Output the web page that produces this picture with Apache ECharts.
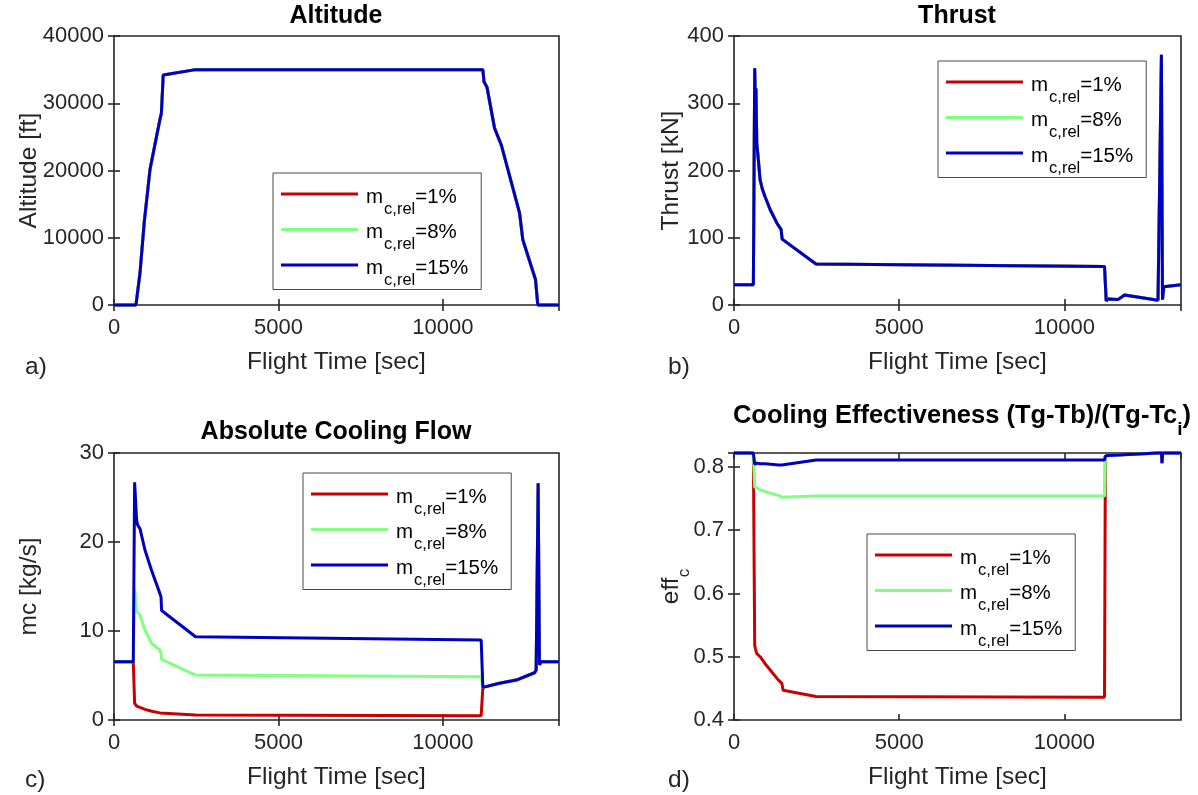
<!DOCTYPE html>
<html><head><meta charset="utf-8">
<script src="https://cdn.jsdelivr.net/npm/echarts@6/dist/echarts.min.js"></script>
<style>html,body{margin:0;padding:0;background:#fff}#c{width:1198px;height:795px}</style>
</head><body><div id="c"></div>
<script>
// ---------- data ----------
const seriesLabels = ['1%', '8%', '15%'];
const xTicks = [0, 5000, 10000];

// a) Altitude [ft]
const altTime = [0, 668, 790, 921, 1093, 1250, 1406, 1440, 1497, 2480, 11215, 11250, 11340, 11570, 11775, 12330, 12430, 12815, 12885, 13530];
const alt1  = [0, 0, 4750, 12400, 20100, 24000, 27800, 28500, 34200, 35000, 35000, 33200, 32400, 26300, 23800, 13700, 9700, 3800, 0, 0];
const alt8  = [0, 0, 4750, 12400, 20100, 24000, 27800, 28500, 34200, 35000, 35000, 33200, 32400, 26300, 23800, 13700, 9700, 3800, 0, 0];
const alt15 = [0, 0, 4750, 12400, 20100, 24000, 27800, 28500, 34200, 35000, 35000, 33200, 32400, 26300, 23800, 13700, 9700, 3800, 0, 0];

// b) Thrust [kN]
const thrTime = [0, 586, 627, 645, 665, 690, 720, 790, 860, 941, 1093, 1296, 1427, 1440, 1457, 2481, 11215, 11266, 11316, 11620, 11822, 12834, 12880, 12937, 12970, 13010, 13530];
const thr1  = [30, 30, 352, 300, 322, 240, 225, 186, 172, 161, 142, 122, 112, 110, 98, 61, 57.4, 6, 9, 8, 15, 7, 8, 372, 8, 27, 30];
const thr8  = [30, 30, 352, 300, 322, 240, 225, 186, 172, 161, 142, 122, 112, 110, 98, 61, 57.4, 6, 9, 8, 15, 7, 8, 372, 8, 27, 30];
const thr15 = [30, 30, 352, 300, 322, 240, 225, 186, 172, 161, 142, 122, 112, 110, 98, 61, 57.4, 6, 9, 8, 15, 7, 8, 372, 8, 27, 30];

// c) Absolute cooling flow mc [kg/s]
const mcTime = [0, 586, 627, 660, 689, 720, 790, 941, 1143, 1397, 1430, 1447, 2480, 11164, 11215, 11720, 12230, 12785, 12835, 12896, 12936, 12987, 13530];
const mc1  = [6.55, 6.55, 1.87, 1.65, 1.57, 1.5, 1.42, 1.2, 0.98, 0.8, 0.78, 0.75, 0.56, 0.49, 3.67, 4.12, 4.49, 5.31, 5.6, 26.6, 6.2, 6.55, 6.55];
const mc8  = [6.55, 6.55, 14.7, 14.5, 12.2, 12.0, 11.8, 10.1, 8.6, 7.86, 7.5, 6.8, 5.05, 4.86, 3.67, 4.12, 4.49, 5.31, 5.6, 26.6, 6.2, 6.55, 6.55];
const mc15 = [6.55, 6.55, 26.7, 26.5, 22.4, 21.9, 21.5, 19.1, 16.8, 14.2, 13.8, 12.3, 9.35, 8.98, 3.67, 4.12, 4.49, 5.31, 5.6, 26.6, 6.2, 6.55, 6.55];

// d) Cooling effectiveness eff_c
const effTime = [0, 586, 627, 650, 689, 790, 941, 1346, 1447, 1488, 2481, 11215, 11240, 11320, 12834, 12940, 12955, 12975, 13530];
const eff1  = [0.822, 0.822, 0.518, 0.512, 0.505, 0.500, 0.489, 0.463, 0.458, 0.447, 0.437, 0.436, 0.817, 0.818, 0.822, 0.822, 0.806, 0.822, 0.822];
const eff8  = [0.822, 0.822, 0.768, 0.767, 0.767, 0.764, 0.761, 0.755, 0.752, 0.751, 0.754, 0.754, 0.817, 0.818, 0.822, 0.822, 0.806, 0.822, 0.822];
const eff15 = [0.822, 0.822, 0.804, 0.806, 0.806, 0.805, 0.805, 0.803, 0.803, 0.803, 0.811, 0.811, 0.817, 0.818, 0.822, 0.822, 0.806, 0.822, 0.822];

// ---------- styling ----------
const FONT = '"Liberation Sans", Arial, Helvetica, sans-serif';
const AX = '#262626';
const colors = ['#c80000', '#80ff80', '#0000c0'];
const xMax = 13530;

const panels = [
  { grid: {left:114, top:36, width:445, height:269}, t: altTime, ys: [alt1, alt8, alt15],
    y: {min:0, max:40000, interval:10000}, yname: 'Altitude [ft]', nameGap: 72,
    legend: {left:273, top:173} },
  { grid: {left:734, top:36, width:447, height:269}, t: thrTime, ys: [thr1, thr8, thr15],
    y: {min:0, max:400, interval:100}, yname: 'Thrust [kN]', nameGap: 50,
    legend: {left:938, top:61} },
  { grid: {left:114, top:453, width:445, height:267}, t: mcTime, ys: [mc1, mc8, mc15],
    y: {min:0, max:30, interval:10}, yname: 'mc [kg/s]', nameGap: 72,
    legend: {left:303, top:473} },
  { grid: {left:734, top:453, width:447, height:267}, t: effTime, ys: [eff1, eff8, eff15],
    y: {min:0.4, max:0.822, interval:0.1}, yname: '{e|eff}{c|c}', nameGap: 47,
    legend: {left:867, top:534} }
];

const pairs = (t, v) => t.map((x, i) => [x, v[i]]);
const sName = l => 'mc,rel=' + l;

const grid = [], xAxis = [], yAxis = [], series = [], legend = [];
panels.forEach((p, i) => {
  grid.push(Object.assign({show:true, borderColor:AX, borderWidth:1.6, backgroundColor:'#fff'}, p.grid));
  const tick = {show:true, inside:true, length:6, lineStyle:{color:AX, width:1.6}};
  xAxis.push({type:'value', gridIndex:i, min:0, max:xMax, interval:5000, position:'bottom',
    axisLine:{show:false}, axisTick:tick, splitLine:{show:false},
    axisLabel:{color:AX, fontSize:22, fontFamily:FONT, margin:12, showMaxLabel:false,
      formatter: v => xTicks.indexOf(v) >= 0 ? String(v) : ''},
    name:'Flight Time [sec]', nameLocation:'middle', nameGap:45, nameMoveOverlap:false,
    nameTextStyle:{color:AX, fontSize:24.5, fontFamily:FONT}});
  const yLab = {color:AX, fontSize:22, fontFamily:FONT, margin:10, showMaxLabel: i===3 ? false : true,
    formatter: v => String(Math.round(v * 1000) / 1000)};
  const yAx = Object.assign({type:'value', gridIndex:i, position:'left',
    axisLine:{show:false}, axisTick:tick, splitLine:{show:false}, axisLabel:yLab,
    name:p.yname, nameLocation:'middle', nameGap:p.nameGap, nameRotate:90, nameMoveOverlap:false,
    nameTextStyle:{color:AX, fontSize:24.5, fontFamily:FONT,
      rich:{e:{fontSize:24.5, fontFamily:FONT, color:AX, lineHeight:28, verticalAlign:'top'},
            c:{fontSize:17, fontFamily:FONT, color:AX, lineHeight:17, padding:[17,0,0,0], verticalAlign:'top'}}}}, p.y);
  yAxis.push(yAx);
  p.ys.forEach((v, k) => {
    series.push({type:'line', name:sName(seriesLabels[k]), xAxisIndex:i, yAxisIndex:i,
      data:pairs(p.t, v), showSymbol:false, symbol:'none', clip:false,
      lineStyle:{color:colors[k], width:3}, itemStyle:{color:colors[k]}, z:2+k});
  });
  legend.push({orient:'vertical', left:p.legend.left, top:p.legend.top,
    data: seriesLabels.map(sName),
    backgroundColor:'#fff', borderColor:'#4a4a4a', borderWidth:1,
    padding:[9, 13, 1, 8], itemGap:0, itemWidth:77, itemHeight:31,
    icon:'path://M0,0L0,0M0,10.5L77,10.5L77,13.5L0,13.5ZM77,31L77,31',
    itemStyle:{borderWidth:0}, selectedMode:false,
    formatter: name => '{m|m}{s|c,rel}{t|=' + name.split('=')[1] + '}',
    textStyle:{color:'#000', fontFamily:FONT,
      rich:{m:{fontSize:20.5, fontFamily:FONT, color:'#000', lineHeight:22, verticalAlign:'top', padding:[0,0,0,3]},
            s:{fontSize:16.5, fontFamily:FONT, color:'#000', lineHeight:16, verticalAlign:'top', padding:[14,0,0,1]},
            t:{fontSize:20.5, fontFamily:FONT, color:'#000', lineHeight:22, verticalAlign:'top'}}}});
});
// top / right tick-only axes to close the box
panels.forEach((p, i) => {
  const tick = {show:true, inside:true, length:6, lineStyle:{color:AX, width:1.6}};
  xAxis.push({type:'value', gridIndex:i, min:0, max:xMax, interval:5000, position:'top',
    axisLine:{show:false}, axisTick:tick, axisLabel:{show:false}, splitLine:{show:false}});
  yAxis.push(Object.assign({type:'value', gridIndex:i, position:'right',
    axisLine:{show:false}, axisTick:tick, axisLabel:{show:false}, splitLine:{show:false}}, p.y));
});

const titleStyle = (txt, x, y) => ({type:'text', x:x, y:y, z:10,
  style:{text:txt, fontSize:25, fontWeight:'bold', fontFamily:FONT, fill:'#000', align:'center', verticalAlign:'middle'}});
const lab = (txt, x, y) => ({type:'text', x:x, y:y, z:10,
  style:{text:txt, fontSize:24.5, fontFamily:FONT, fill:AX, align:'left', verticalAlign:'middle'}});

const graphic = [
  titleStyle('Altitude', 336, 16),
  titleStyle('Thrust', 957, 16),
  titleStyle('Absolute Cooling Flow', 336, 432),
  {type:'text', x:962, y:403, z:10,
    style:{text:'{a|Cooling Effectiveness (Tg-Tb)/(Tg-Tc}{b|i}{a|)}', align:'center', verticalAlign:'top',
      rich:{a:{fontSize:25.5, fontWeight:'bold', fontFamily:FONT, fill:'#000', color:'#000', lineHeight:28, verticalAlign:'top'},
            b:{fontSize:19, fontWeight:'bold', fontFamily:FONT, fill:'#000', color:'#000', lineHeight:19, padding:[17,0,0,0], verticalAlign:'top'}}}},
  lab('a)', 25, 367),
  lab('b)', 668, 367),
  lab('c)', 25, 780),
  lab('d)', 668, 780)
];

const chart = echarts.init(document.getElementById('c'), null, {renderer:'canvas'});
chart.setOption({animation:false, backgroundColor:'#fff', grid, xAxis, yAxis, series, legend, graphic});
</script></body></html>
